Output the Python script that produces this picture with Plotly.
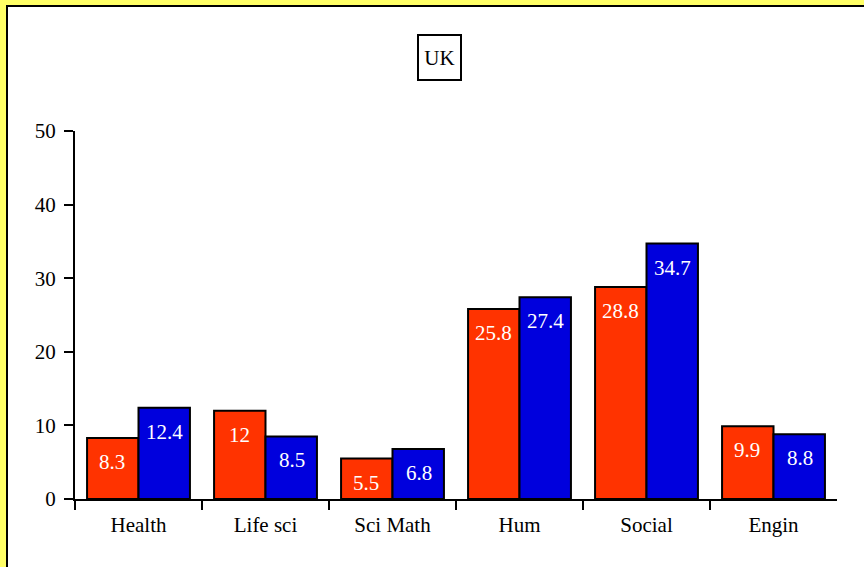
import plotly.graph_objects as go

categories = ["Health", "Life sci", "Sci Math", "Hum", "Social", "Engin"]
series_a = [8.3, 12, 5.5, 25.8, 28.8, 9.9]
series_b = [12.4, 8.5, 6.8, 27.4, 34.7, 8.8]
y_ticks = [0, 10, 20, 30, 40, 50]
title_text = "UK"

RED = "#FF3300"
BLUE = "#0000DD"
FONT = "Liberation Serif, Times New Roman, serif"

W, H = 864, 567
L, R, T, B = 75, 27, 131, 68
pw, ph = W - L - R, H - T - B

def px_x(px):
    return (px - L) / pw

def px_y(py):
    return (H - B - py) / ph

xs = list(range(len(categories)))

fig = go.Figure()
fig.add_trace(go.Bar(x=xs, y=series_a, marker=dict(color=RED, line=dict(color="black", width=2)),
                     hoverinfo="skip", showlegend=False))
fig.add_trace(go.Bar(x=xs, y=series_b, marker=dict(color=BLUE, line=dict(color="black", width=2)),
                     hoverinfo="skip", showlegend=False))

off = 0.205
annotations = []
for i, (a, b) in enumerate(zip(series_a, series_b)):
    for val, dx in ((a, -off), (b, off)):
        annotations.append(dict(x=i + dx, y=val, xref="x", yref="y", text=f"{val:g}",
                                showarrow=False, yshift=-24, yanchor="middle",
                                font=dict(family=FONT, size=21, color="white")))

annotations.append(dict(x=px_x(439.5), y=px_y(57.5), xref="paper", yref="paper", text=title_text,
                        showarrow=False, xanchor="center", yanchor="middle",
                        width=35, height=37,
                        font=dict(family=FONT, size=21, color="black"),
                        bordercolor="black", borderwidth=2, borderpad=3, bgcolor="white"))

fig.update_layout(
    width=W, height=H,
    margin=dict(l=L, r=R, t=T, b=B, pad=0),
    paper_bgcolor="#FFFF66",
    plot_bgcolor="white",
    barmode="group", bargap=0.19, bargroupgap=0,
    font=dict(family=FONT, size=21, color="black"),
    annotations=annotations,
    shapes=[dict(type="rect", xref="paper", yref="paper", layer="below",
                 x0=px_x(7), x1=px_x(900), y0=px_y(600), y1=px_y(6),
                 fillcolor="white", line=dict(color="black", width=2))],
)
fig.update_xaxes(range=[-0.5, 5.5], tickmode="array", tickvals=xs, ticktext=categories,
                 ticks="outside", ticklen=6, tickcolor="rgba(0,0,0,0)",
                 showline=True, linecolor="black", linewidth=2, showgrid=False, zeroline=False,
                 tickfont=dict(family=FONT, size=21),
                 minor=dict(tickmode="array", tickvals=[i - 0.5 for i in xs], ticks="outside",
                            ticklen=9, tickwidth=2, tickcolor="black", showgrid=False))
fig.update_yaxes(range=[0, 50], tickmode="array", tickvals=y_ticks,
                 ticks="outside", ticklen=9, tickwidth=2, tickcolor="black", ticklabelstandoff=4,
                 showline=True, linecolor="black", linewidth=2, showgrid=False, zeroline=False,
                 tickfont=dict(family=FONT, size=21))

fig.write_html("out.html", config={"displayModeBar": False},
               post_script="document.body.style.margin='0';")
